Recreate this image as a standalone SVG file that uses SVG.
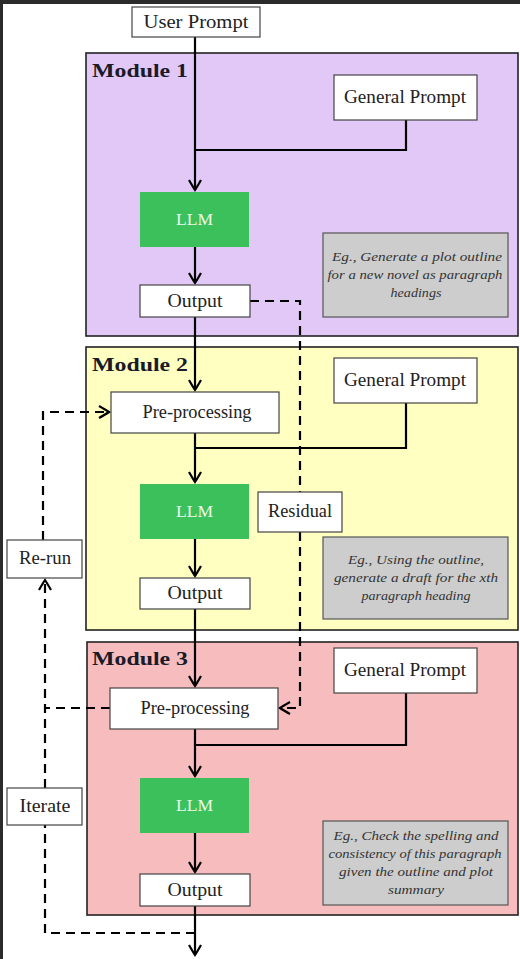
<svg xmlns="http://www.w3.org/2000/svg" width="520" height="959" viewBox="0 0 520 959">
<style>
.t{font-family:"Liberation Serif","Times New Roman",serif;fill:#222;text-anchor:middle}
.node{font-size:18px}
.mod{font-family:"Liberation Serif","Times New Roman",serif;font-size:19px;font-weight:bold;fill:#1a1a28;text-anchor:start}
.ex{font-size:12px;font-style:italic;fill:#333}
.box{fill:#fff;stroke:#444;stroke-width:1.2}
.llm{fill:#3cc05b}
.llmt{fill:#eafbe9;font-size:17px}
.grey{fill:#cdcdcd;stroke:#555;stroke-width:1.2}
.module{stroke:#222;stroke-width:1.6}
.c{fill:none;stroke:#000;stroke-width:2.2}
.d{fill:none;stroke:#000;stroke-width:2.2;stroke-dasharray:9 6}
</style>
<defs>
<marker id="ah" markerUnits="userSpaceOnUse" viewBox="-12 -8 14 16" refX="0" refY="0" markerWidth="14" markerHeight="16" orient="auto">
<path d="M -10 -6 Q -3 -2 0 0 Q -3 2 -10 6" fill="none" stroke="#000" stroke-width="2.2"/>
</marker>
</defs>
<rect x="0" y="0" width="520" height="959" fill="#fff"/>
<rect x="0" y="0" width="520" height="4" fill="#2b2b2b"/>
<rect x="0" y="0" width="3" height="959" fill="#2b2b2b"/>

<g id="module1">
<rect class="module" x="86" y="53" width="432" height="283" fill="#e2c8f6"/>
<text class="mod" x="92" y="77" textLength="96" lengthAdjust="spacingAndGlyphs">Module 1</text>
</g>
<g id="module2">
<rect class="module" x="86" y="347" width="432" height="283" fill="#ffffc2"/>
<text class="mod" x="92" y="371" textLength="96" lengthAdjust="spacingAndGlyphs">Module 2</text>
</g>
<g id="module3">
<rect class="module" x="87" y="642" width="431" height="273" fill="#f7bcbd"/>
<text class="mod" x="92" y="665" textLength="96" lengthAdjust="spacingAndGlyphs">Module 3</text>
</g>

<g id="connectors">
<path class="c" d="M195 37 V190" marker-end="url(#ah)"/>
<path class="c" d="M406 120 V150 H195"/>
<path class="c" d="M195 247 V283" marker-end="url(#ah)"/>
<path class="c" d="M195 317 V390" marker-end="url(#ah)"/>
<path class="c" d="M406 403 V448 H195"/>
<path class="c" d="M195 433 V482" marker-end="url(#ah)"/>
<path class="c" d="M195 539 V576" marker-end="url(#ah)"/>
<path class="c" d="M195 609 V686" marker-end="url(#ah)"/>
<path class="c" d="M406 693 V745 H195"/>
<path class="c" d="M195 729 V776" marker-end="url(#ah)"/>
<path class="c" d="M195 833 V872" marker-end="url(#ah)"/>
<path class="c" d="M195 906 V955" marker-end="url(#ah)"/>
<path class="d" d="M250 301 H300 V492"/>
<path class="d" d="M300 532 V708 H280" marker-end="url(#ah)"/>
<path class="d" d="M110 708 H45"/>
<path class="d" d="M195 933 H45 V825"/>
<path class="d" d="M45 788 V580" marker-end="url(#ah)"/>
<path class="d" d="M43 540 V412 H109" marker-end="url(#ah)"/>
</g>

<g id="user-prompt">
<rect class="box" x="132" y="7" width="128" height="30"/>
<text class="t node" x="196" y="28" textLength="105" lengthAdjust="spacingAndGlyphs">User Prompt</text>
</g>

<g id="general-prompt-1">
<rect class="box" x="334" y="75" width="143" height="45"/>
<text class="t node" x="405" y="103" textLength="122" lengthAdjust="spacingAndGlyphs">General Prompt</text>
</g>
<g id="llm-1">
<rect class="llm" x="140" y="192" width="109" height="55"/>
<text class="t llmt" x="194.500" y="225" textLength="37" lengthAdjust="spacingAndGlyphs">LLM</text>
</g>
<g id="output-1">
<rect class="box" x="140" y="285" width="110" height="32"/>
<text class="t node" x="195" y="307" textLength="55" lengthAdjust="spacingAndGlyphs">Output</text>
</g>
<g id="example-1">
<rect class="grey" x="323" y="233" width="185" height="84"/>
<text class="t ex" x="417" y="261" textLength="170" lengthAdjust="spacingAndGlyphs">Eg., Generate a plot outline</text>
<text class="t ex" x="415" y="279" textLength="175" lengthAdjust="spacingAndGlyphs">for a new novel as paragraph</text>
<text class="t ex" x="416" y="297" textLength="51" lengthAdjust="spacingAndGlyphs">headings</text>
</g>

<g id="preprocessing-2">
<rect class="box" x="111" y="392" width="168" height="41"/>
<text class="t node" x="197" y="418" textLength="109" lengthAdjust="spacingAndGlyphs">Pre-processing</text>
</g>
<g id="general-prompt-2">
<rect class="box" x="334" y="358" width="143" height="45"/>
<text class="t node" x="405" y="386" textLength="122" lengthAdjust="spacingAndGlyphs">General Prompt</text>
</g>
<g id="llm-2">
<rect class="llm" x="140" y="484" width="109" height="55"/>
<text class="t llmt" x="194.500" y="517" textLength="37" lengthAdjust="spacingAndGlyphs">LLM</text>
</g>
<g id="output-2">
<rect class="box" x="140" y="578" width="110" height="31"/>
<text class="t node" x="195" y="599" textLength="55" lengthAdjust="spacingAndGlyphs">Output</text>
</g>
<g id="residual">
<rect class="box" x="258" y="492" width="84" height="40"/>
<text class="t node" x="300" y="517" textLength="64" lengthAdjust="spacingAndGlyphs">Residual</text>
</g>
<g id="example-2">
<rect class="grey" x="323" y="537" width="185" height="82"/>
<text class="t ex" x="416" y="564" textLength="136" lengthAdjust="spacingAndGlyphs">Eg., Using the outline,</text>
<text class="t ex" x="416" y="582" textLength="164" lengthAdjust="spacingAndGlyphs">generate a draft for the xth</text>
<text class="t ex" x="416" y="600" textLength="109" lengthAdjust="spacingAndGlyphs">paragraph heading</text>
</g>
<g id="re-run">
<rect class="box" x="7" y="540" width="75" height="38"/>
<text class="t node" x="45" y="564" textLength="52" lengthAdjust="spacingAndGlyphs">Re-run</text>
</g>

<g id="general-prompt-3">
<rect class="box" x="334" y="648" width="143" height="45"/>
<text class="t node" x="405" y="676" textLength="122" lengthAdjust="spacingAndGlyphs">General Prompt</text>
</g>
<g id="preprocessing-3">
<rect class="box" x="110" y="688" width="168" height="41"/>
<text class="t node" x="195" y="714" textLength="109" lengthAdjust="spacingAndGlyphs">Pre-processing</text>
</g>
<g id="llm-3">
<rect class="llm" x="140" y="778" width="109" height="55"/>
<text class="t llmt" x="194.500" y="811" textLength="37" lengthAdjust="spacingAndGlyphs">LLM</text>
</g>
<g id="output-3">
<rect class="box" x="140" y="874" width="110" height="32"/>
<text class="t node" x="195" y="896" textLength="55" lengthAdjust="spacingAndGlyphs">Output</text>
</g>
<g id="iterate">
<rect class="box" x="7" y="788" width="75" height="37"/>
<text class="t node" x="45" y="812" textLength="51" lengthAdjust="spacingAndGlyphs">Iterate</text>
</g>
<g id="example-3">
<rect class="grey" x="323" y="821" width="185" height="84"/>
<text class="t ex" x="416" y="840" textLength="165" lengthAdjust="spacingAndGlyphs">Eg., Check the spelling and</text>
<text class="t ex" x="415" y="858" textLength="173" lengthAdjust="spacingAndGlyphs">consistency of this paragraph</text>
<text class="t ex" x="416" y="876" textLength="154" lengthAdjust="spacingAndGlyphs">given the outline and plot</text>
<text class="t ex" x="416" y="894" textLength="56" lengthAdjust="spacingAndGlyphs">summary</text>
</g>
</svg>
